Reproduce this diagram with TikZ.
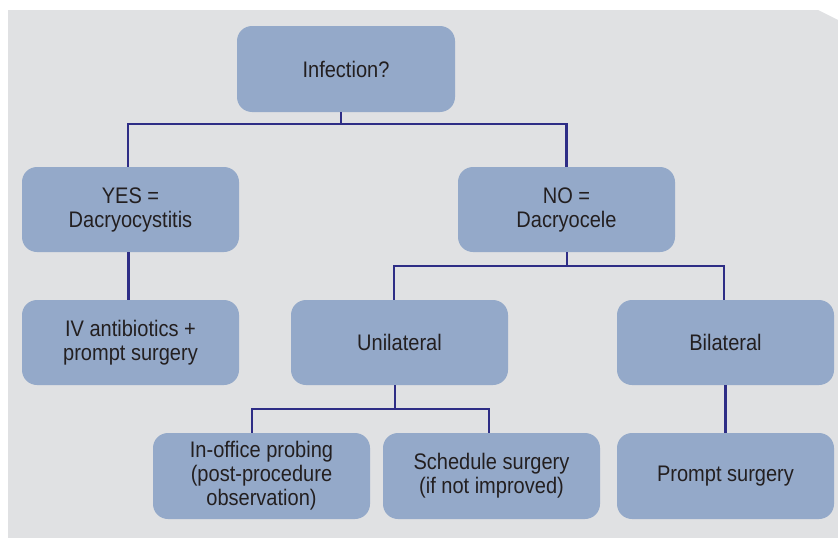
\documentclass[tikz,border=0pt]{standalone}
\usepackage{fontspec}
\newfontfamily\condsans{Liberation Sans}[FakeStretch=0.89]
\usepackage{tikz}
\usetikzlibrary{positioning}
\definecolor{panelgray}{HTML}{E0E1E3}
\definecolor{boxblue}{HTML}{94A9C9}
\definecolor{linenavy}{HTML}{2E2D86}
\definecolor{textdark}{HTML}{231F20}
\tikzstyle{qbox} = [rectangle, rounded corners=15pt, fill=boxblue, text=textdark, minimum width=217pt, minimum height=85pt, align=center, inner sep=2pt, font=\condsans\fontsize{22.5}{24}\selectfont]
\tikzstyle{line} = [draw=linenavy, line width=2.5pt, line join=miter]

\begin{document}
\begin{tikzpicture}[x=1pt, y=-1pt]
			\useasboundingbox (0,0) rectangle (838,538);
			\fill [panelgray] (8,10) -- (818,10) -- (838,20) -- (838,538) -- (8,538) -- cycle;
			
			\node [qbox, minimum width=218pt, minimum height=86pt] (infect) at (346,69) {Infection?};
			\node [qbox] (yes) at (130.5,209.5) {YES =\\Dacryocystitis};
			\node [qbox] (no) at (566.5,209.5) {NO =\\Dacryocele};
			\node [qbox] (iv) at (130.5,342.5) {IV antibiotics +\\prompt surgery};
			\node [qbox] (uni) at (399.5,342.5) {Unilateral};
			\node [qbox] (bi) at (725.5,342.5) {Bilateral};
			\node [qbox, minimum height=86pt] (probe) at (261.5,476) {In-office probing\\(post-procedure\\observation)};
			\node [qbox, minimum height=86pt] (sched) at (491.5,476) {Schedule surgery\\(if not improved)};
			\node [qbox, minimum height=86pt] (prompt) at (725.5,476) {Prompt surgery};
			
			\coordinate (j1) at (341,124);
			\coordinate (j2) at (567,266);
			\coordinate (j3) at (395,409);
			
			\path [line] (infect.south -| j1) -- (j1) -| ([xshift=-2.5pt]yes.north);
			\path [line] (j1) -| (no.north);
			\path [line] ([xshift=-2pt]yes.south) -- ([xshift=-2pt]iv.north);
			\path [line] (no.south -| j2) -- (j2) -| ([xshift=-5.5pt]uni.north);
			\path [line] (j2) -| ([xshift=-1.5pt]bi.north);
			\path [line] (uni.south -| j3) -- (j3) -| ([xshift=-9.5pt]probe.north);
			\path [line] (j3) -| ([xshift=-2.5pt]sched.north);
			\path [line] (bi.south) -- (prompt.north);
		\end{tikzpicture}
\end{document}
